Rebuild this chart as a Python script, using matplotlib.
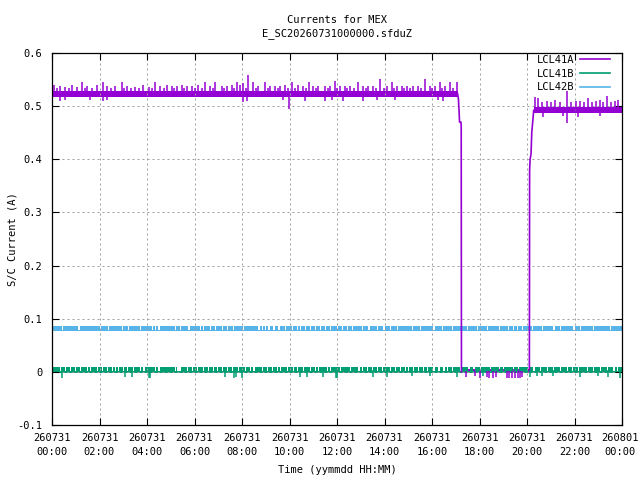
import numpy as np
import matplotlib
matplotlib.use("Agg")
import matplotlib.pyplot as plt
from matplotlib.transforms import ScaledTranslation

# time axis is hours since 260731 00:00
xtick_hours = list(range(0, 25, 2))
xtick_labels = ["260731\n%02d:00" % h for h in range(0, 24, 2)] + ["260801\n00:00"]
ytick_vals = [-0.1, 0.0, 0.1, 0.2, 0.3, 0.4, 0.5, 0.6]

series_names = ["LCL41A", "LCL41B", "LCL42B"]
series_colors = ["#9400d3", "#009e73", "#56b4e9"]

# LCL41A: level bands (start, end, low, high)
a_bands = [(0.0, 17.10, 0.517, 0.529),
           (17.24, 20.10, -0.002, 0.005),
           (20.28, 24.0, 0.487, 0.498)]
# LCL41A transitions (off at ~17.2h, back on at ~20.1h)
a_drop_t = [17.08, 17.11, 17.14, 17.16, 17.22, 17.23, 17.24]
a_drop_v = [0.523, 0.515, 0.490, 0.470, 0.470, 0.460, 0.000]
a_rise_t = [20.10, 20.11, 20.13, 20.17, 20.20, 20.24, 20.28]
a_rise_v = [0.000, 0.380, 0.400, 0.410, 0.450, 0.470, 0.492]
# LCL41A spikes (hour, value)
a_spikes = [(0.10, .540), (0.34, .538), (0.55, .536), (0.84, .540), (1.05, .536),
            (1.26, .545), (1.47, .538), (1.89, .540), (2.15, .545), (2.30, .538),
            (2.65, .538), (2.95, .545), (3.16, .538), (3.50, .536), (3.84, .540),
            (4.10, .536), (4.34, .545), (4.55, .538), (4.84, .540), (5.04, .538),
            (5.25, .538), (5.46, .540), (5.67, .538), (5.88, .538), (6.16, .540),
            (6.44, .545), (6.65, .538), (6.86, .545), (7.14, .538), (7.35, .538),
            (7.56, .540), (7.77, .545), (7.92, .540), (8.06, .543), (8.27, .559),
            (8.48, .545), (8.69, .538), (8.97, .545), (9.18, .538), (9.39, .538),
            (9.60, .538), (9.81, .540), (10.09, .545), (10.37, .540), (10.58, .538),
            (10.80, .545), (11.00, .538), (11.21, .538), (11.49, .538), (11.71, .538),
            (11.92, .548), (12.13, .538), (12.34, .538), (12.55, .538), (12.90, .545),
            (13.11, .538), (13.32, .538), (13.53, .538), (13.81, .551), (14.09, .538),
            (14.30, .545), (14.51, .538), (14.72, .538), (14.93, .538), (15.21, .538),
            (15.42, .538), (15.71, .551), (15.92, .538), (16.13, .538), (16.34, .545),
            (16.55, .538), (16.76, .545), (17.04, .545),
            (0.22, .534), (0.70, .534), (1.38, .534), (1.70, .534), (2.48, .534),
            (3.05, .534), (3.32, .534), (3.66, .534), (4.22, .534), (4.70, .534),
            (5.14, .534), (5.56, .534), (6.02, .534), (6.30, .534), (6.76, .534),
            (7.24, .534), (7.66, .534), (8.16, .534), (8.58, .534), (9.08, .534),
            (9.50, .534), (9.94, .534), (10.22, .534), (10.70, .534), (11.10, .534),
            (11.60, .534), (12.02, .534), (12.44, .534), (12.72, .534), (13.20, .534),
            (13.66, .534), (13.96, .534), (14.40, .534), (14.82, .534), (15.08, .534),
            (15.55, .534), (16.02, .534), (16.44, .534), (16.90, .534),
            (0.34, .510), (0.55, .512), (1.60, .512), (2.15, .510), (2.30, .512),
            (8.05, .508), (8.20, .510), (9.74, .512), (9.99, .495), (10.65, .510),
            (11.49, .510), (11.78, .512), (12.27, .510), (13.10, .510), (13.70, .512),
            (14.45, .512), (16.25, .512), (16.47, .510),
            (17.43, -.010), (17.80, -.008), (18.00, -.012), (18.30, -.010), (18.40, -.012),
            (18.55, -.012), (18.70, -.010), (19.15, -.012), (19.25, -.012), (19.37, -.012),
            (19.50, -.012), (19.60, -.012), (19.70, -.012), (19.80, -.010),
            (20.34, .518), (20.48, .515), (20.62, .508), (20.83, .510), (21.00, .508),
            (21.18, .512), (21.40, .508), (21.67, .529), (21.85, .508), (22.05, .510),
            (22.23, .510), (22.40, .508), (22.57, .515), (22.75, .508), (22.90, .510),
            (23.07, .512), (23.20, .508), (23.36, .520), (23.55, .508), (23.70, .510),
            (23.85, .512),
            (20.69, .480), (21.53, .482), (21.67, .468), (22.15, .480), (23.07, .482)]

# LCL41B: one band all day, with short drops to the lower count
b_band = (0.0, 24.0, -0.003, 0.009)
b_gap_top = 0.001
b_gaps = [0.34, 0.55, 0.76, 0.97, 1.18, 1.46, 1.60, 1.88, 2.09, 2.30, 2.51, 2.65,
          2.79, 3.00, 3.17, 3.42, 3.71, 3.85, 4.34, 4.48, 5.18, 5.25, 5.32, 5.39,
          5.67, 5.88, 6.09, 6.37, 6.58, 6.79, 6.93, 7.14, 7.35, 7.56, 7.84, 8.13,
          8.34, 8.48, 8.83, 9.04, 9.25, 9.46, 9.60, 9.88, 10.16, 10.30, 10.58, 10.86,
          11.07, 11.21, 11.57, 11.71, 12.13, 12.55, 12.90, 13.04, 13.25, 13.46, 13.67,
          13.88, 14.23, 14.44, 14.65, 14.86, 15.00, 15.21, 15.42, 15.63, 15.78, 16.06,
          16.27, 16.48, 16.62, 16.83, 17.18, 17.53, 17.74, 18.02, 18.44, 18.80, 19.00,
          19.42, 19.63, 20.05, 20.27, 20.55, 20.83, 21.10, 21.39, 21.67, 21.88, 22.16,
          22.51, 22.79, 23.07, 23.36, 23.64, 23.80]
b_spikes = [(0.41, -.012), (3.07, -.010), (3.36, -.010), (4.10, -.012), (4.13, -.012),
            (7.28, -.010), (7.67, -.012), (7.75, -.010), (7.99, -.012), (10.44, -.010),
            (10.72, -.010), (11.42, -.010), (11.95, -.012), (11.98, -.012), (13.50, -.010),
            (14.12, -.010), (15.15, -.008), (15.90, -.008), (17.04, -.010), (18.16, -.008),
            (20.13, -.010), (20.40, -.008), (20.62, -.008), (21.10, -.008), (22.23, -.010),
            (23.00, -.008), (23.42, -.010), (23.90, -.012)]

# LCL42B: one band all day
c_band = (0.0, 24.0, 0.077, 0.087)
c_gap_top = 0.079
c_gaps = [0.41, 1.11, 2.02, 2.37, 2.93, 3.21, 3.71, 4.20, 4.34, 4.48, 5.18, 5.39,
          5.74, 6.23, 6.37, 6.65, 6.86, 7.14, 7.35, 7.63, 8.03, 8.69, 8.83, 8.97,
          9.11, 9.32, 9.53, 9.81, 10.09, 10.30, 10.44, 10.65, 10.86, 11.07, 11.28,
          11.49, 11.71, 11.99, 12.20, 12.41, 12.62, 13.04, 13.32, 13.67, 13.95, 14.23,
          14.51, 15.15, 15.49, 16.06, 16.41, 16.83, 17.46, 17.88, 18.30, 18.80, 19.21,
          19.42, 19.56, 19.78, 20.20, 20.62, 21.11, 21.39, 21.95, 22.23, 22.79, 23.50]


def draw_band(ax, t0, t1, lo, hi, color, gaps=(), gap_top=None, w=0.05):
    xs = [t0]
    ys = [hi]
    for g in sorted(gaps):
        if t0 < g < t1 - w:
            xs += [g, g + w]
            ys += [gap_top, hi]
    xs.append(t1)
    ys.append(hi)
    ax.fill_between(xs, lo, ys, step="post", color=color, lw=0)


def draw_spikes(ax, spikes, bands, color):
    for t, v in spikes:
        base = None
        for t0, t1, lo, hi in bands:
            if t0 <= t <= t1:
                base = (lo + hi) / 2
        if base is None:
            continue
        ax.vlines(t, base, v, color=color, lw=1.1)


fig = plt.figure(figsize=(6.4, 4.8), dpi=100)
ax = fig.add_axes([52 / 640, 55 / 480, 570 / 640, 372 / 480])
mono = "DejaVu Sans Mono"
fs = 7.5

# LCL41A
for t0, t1, lo, hi in a_bands:
    draw_band(ax, t0, t1, lo, hi, series_colors[0])
draw_spikes(ax, a_spikes, a_bands, series_colors[0])
ax.plot(a_drop_t, a_drop_v, color=series_colors[0], lw=1.2)
ax.plot(a_rise_t, a_rise_v, color=series_colors[0], lw=1.2)
# LCL41B
draw_band(ax, *b_band, series_colors[1], b_gaps, b_gap_top)
draw_spikes(ax, b_spikes, [b_band], series_colors[1])
# LCL42B
draw_band(ax, *c_band, series_colors[2], c_gaps, c_gap_top)

# legend handles
for name, col in zip(series_names, series_colors):
    ax.plot([], [], color=col, lw=1.2, label=name)
leg = ax.legend(loc="upper right", frameon=False, markerfirst=False,
                prop={"family": mono, "size": fs},
                handlelength=2.9, handletextpad=0.55, labelspacing=0.36,
                borderaxespad=0, borderpad=0,
                bbox_to_anchor=(1 - 12 / 570, 1 - 2 / 372))

ax.set_xlim(0, 24)
ax.set_ylim(-0.1, 0.6)
ax.set_xticks(xtick_hours)
ax.set_xticklabels(xtick_labels, family=mono, fontsize=fs, linespacing=1.4)
ax.set_yticks(ytick_vals)
ax.set_yticklabels(["%g" % v for v in ytick_vals], family=mono, fontsize=fs)
ax.tick_params(direction="in", length=5, width=0.8, top=True, right=True)
ax.tick_params(axis="x", pad=6)
ax.tick_params(axis="y", pad=7)
# nudge the last date label so it stays inside the picture
last = ax.get_xticklabels()[-1]
last.set_transform(last.get_transform() + ScaledTranslation(-2 / 100, 0, fig.dpi_scale_trans))
ax.grid(True, color="#a0a0a0", lw=0.72, linestyle=(0, (2, 3)))
for s in ax.spines.values():
    s.set_linewidth(0.9)

fig.text(337 / 640, 1 - 20 / 480, "Currents for MEX", ha="center", va="center",
         family=mono, fontsize=fs)
fig.text(337 / 640, 1 - 34 / 480, "E_SC20260731000000.sfduZ", ha="center",
         va="center", family=mono, fontsize=fs)
fig.text(337 / 640, 1 - 470 / 480, "Time (yymmdd HH:MM)", ha="center", va="center",
         family=mono, fontsize=fs)
fig.text(13 / 640, 1 - 239 / 480, "S/C Current (A)", ha="center", va="center",
         rotation=90, family=mono, fontsize=fs)

fig.savefig("out.png", dpi=100)
